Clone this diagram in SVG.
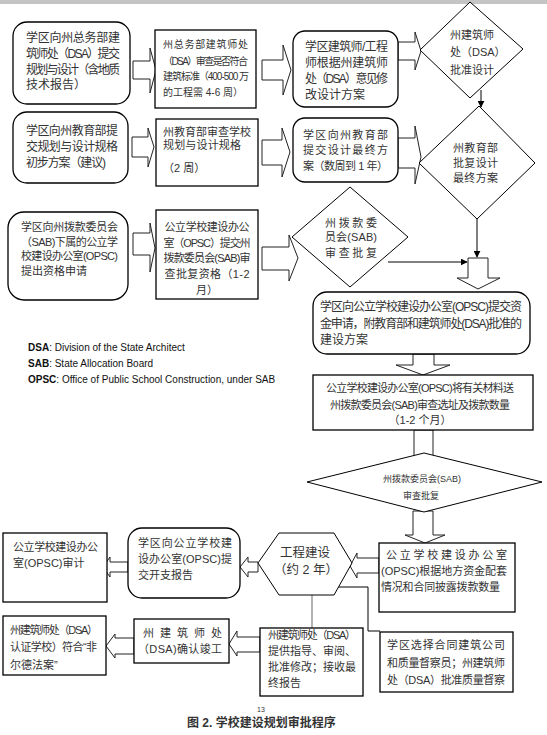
<svg xmlns="http://www.w3.org/2000/svg" width="547" height="735" viewBox="0 0 547 735">
<style>
.bg{fill:#fff}
.box{fill:#fff;stroke:#000;stroke-width:1.3}
.dia{fill:#fff;stroke:#000;stroke-width:1}
.ba{fill:#fff;stroke:#222;stroke-width:1}
.ln{fill:none;stroke:#000;stroke-width:1}
.gl{fill:none;stroke:#999;stroke-width:1.5}
text{font-family:"Liberation Sans","Noto Sans CJK SC",sans-serif;fill:#333}
.f12{font-size:12px}
.f11{font-size:11px}
.f10{font-size:10px}
.f9{font-size:9px}
.c{text-anchor:middle}
.leg{font-size:10px;fill:#111}
</style>
<defs>
<marker id="ah" viewBox="0 0 10 10" refX="9" refY="5" markerWidth="7" markerHeight="7" orient="auto" markerUnits="userSpaceOnUse">
<path d="M0,0 L10,5 L0,10 Z" fill="#000"/>
</marker>
</defs>
<rect class="bg" x="0" y="0" width="547" height="735"/>
<rect x="0" y="0" width="547" height="4" fill="#c4c4c4"/>

<g id="connectors">
<path class="ba" d="M133,61 H150 V48 L156,70 L150,93 V79 H133 Z"/>
<path class="ba" d="M262,60 H283 V45 L291,70 L283,95 V80 H262 Z"/>
<path class="ba" d="M398,42 H415 V32 L421,51 L415,70 V60 H398 Z"/>
<path class="ba" d="M132,137 H148 V128 L154,147 L148,167 V157 H132 Z"/>
<path class="ba" d="M262,140 H282 V128 L290,152 L282,177 V165 H262 Z"/>
<path class="ba" d="M398,138 H415 V126 L421,157 L415,184 V168 H398 Z"/>
<path class="ba" d="M133,233 H150 V223 L155,248 L150,272 V255 H133 Z"/>
<path class="ba" d="M262,247 H289 V235 L298,258 L289,281 V270 H262 Z"/>
<line class="ln" x1="481" y1="90" x2="481" y2="107" marker-end="url(#ah)"/>
<line class="ln" x1="477" y1="219" x2="477" y2="257" marker-end="url(#ah)"/>
<line class="ln" x1="388" y1="262" x2="467" y2="262" marker-end="url(#ah)"/>
<path class="ba" d="M468,258 H488 V278 H500 L478,289 L457,278 H468 Z"/>
<path class="ba" d="M413,354 H434 V365 H450 L423,375 L396,365 H413 Z"/>
<path class="ba" d="M414,430 H433 V462 H414 Z"/>
<path class="ba" d="M413,511 H433 V535 H445 L425,543 L405,535 H413 Z"/>
<path class="ba" d="M379,558 H357 V553 L350,566 L357,578 V573 H379 Z"/>
<path class="ba" d="M258,562 H248 V557 L240,567 L248,577 V572 H258 Z"/>
<path class="ba" d="M128,562 H110 V557 L103,567 L110,577 V572 H128 Z"/>
<path class="ba" d="M260,637 H237 V631 L229,644 L237,656 V652 H260 Z"/>
<path class="ba" d="M134,638 H115 V634 L106,646 L115,658 V654 H134 Z"/>
<line class="gl" x1="312" y1="595" x2="312" y2="628"/>
<polyline class="ln" points="337,587 368,587 368,631 380,631"/>
</g>

<g id="n1">
<rect class="box" x="13" y="22" width="117" height="82" rx="14"/>
<text class="f12" x="26" y="42" textLength="94">学区向州总务部建</text>
<text class="f12" x="26" y="58" textLength="94">筑师处（DSA）提交</text>
<text class="f12" x="26" y="74" textLength="94">规划与设计（含地质</text>
<text class="f12" x="26" y="89">技术报告）</text>
</g>
<g id="n2">
<rect class="box" x="155" y="30" width="101" height="78" stroke-width="1.6"/>
<text class="f10" x="163" y="48" textLength="85">州总务部建筑师处</text>
<text class="f10" x="163" y="65" textLength="85">（DSA）审查是否符合</text>
<text class="f10" x="163" y="80" textLength="86">建筑标准（400-500 万</text>
<text class="f10" x="163" y="96">的工程需 4-6 周）</text>
</g>
<g id="n3">
<rect class="box" x="293" y="31" width="105" height="76" rx="12"/>
<text class="f12" x="305" y="51" textLength="83">学区建筑师/工程</text>
<text class="f12" x="305" y="67" textLength="83">师根据州建筑师</text>
<text class="f12" x="305" y="83" textLength="83">处（DSA）意见修</text>
<text class="f12" x="305" y="99">改设计方案</text>
</g>
<g id="d1">
<polygon class="dia" points="420,50 470,2 523,49 470,98"/>
<text class="f11" x="450" y="39" textLength="44">州建筑师</text>
<text class="f11" x="450" y="56">处（DSA）</text>
<text class="f11" x="450" y="74" textLength="44">批准设计</text>
</g>
<g id="n4">
<rect class="box" x="13" y="112" width="115" height="71" rx="14"/>
<text class="f12" x="26" y="135" textLength="92">学区向州教育部提</text>
<text class="f12" x="26" y="151" textLength="92">交规划与设计规格</text>
<text class="f12" x="26" y="167" textLength="80">初步方案（建议)</text>
</g>
<g id="n5">
<rect class="box" x="156" y="119" width="102" height="67"/>
<text class="f11" x="163" y="136" textLength="88">州教育部审查学校</text>
<text class="f11" x="163" y="149" textLength="78">规划与设计规格</text>
<text class="f11" x="163" y="172">（2 周）</text>
</g>
<g id="n6">
<rect class="box" x="293" y="118" width="105" height="64" rx="12"/>
<text class="f11" x="303" y="139" textLength="85">学区向州教育部</text>
<text class="f11" x="303" y="154" textLength="85">提交设计最终方</text>
<text class="f11" x="303" y="170" textLength="85">案（数周到 1 年）</text>
</g>
<g id="d2">
<polygon class="dia" points="419,163 479,106 535,163 477,219"/>
<text class="f11" x="453" y="152" textLength="45">州教育部</text>
<text class="f11" x="453" y="167" textLength="45">批复设计</text>
<text class="f11" x="453" y="182" textLength="45">最终方案</text>
</g>
<g id="n7">
<rect class="box" x="8" y="212" width="120" height="88" rx="16"/>
<text class="f11" x="21" y="231" textLength="97">学区向州拨款委员会</text>
<text class="f11" x="21" y="246" textLength="97">（SAB)下属的公立学</text>
<text class="f11" x="21" y="260" textLength="97">校建设办公室(OPSC)</text>
<text class="f11" x="21" y="275">提出资格申请</text>
</g>
<g id="n8">
<rect class="box" x="156" y="210" width="102" height="89"/>
<text class="f11 c" x="207" y="231" textLength="85">公立学校建设办公</text>
<text class="f11 c" x="207" y="247" textLength="87">室（OPSC）提交州</text>
<text class="f11 c" x="207" y="262" textLength="87">拨款委员会(SAB)审</text>
<text class="f11 c" x="207" y="278" textLength="85">查批复资格（1-2</text>
<text class="f11 c" x="207" y="294">月）</text>
</g>
<g id="d3">
<polygon class="dia" points="292,237 350,187 408,237 350,287"/>
<text class="f11 c" x="351" y="227" textLength="52">州拨款委</text>
<text class="f11 c" x="351" y="241" textLength="52">员会(SAB)</text>
<text class="f11 c" x="351" y="257" textLength="52">审查批复</text>
</g>
<g id="n9">
<rect class="box" x="313" y="292" width="217" height="62" rx="14"/>
<text class="f12" x="320" y="311" textLength="202">学区向公立学校建设办公室(OPSC)提交资</text>
<text class="f12" x="320" y="328" textLength="202">金申请，附教育部和建筑师处(DSA)批准的</text>
<text class="f12" x="320" y="344">建设方案</text>
</g>
<g id="legend">
<text class="leg" x="28" y="351"><tspan font-weight="bold">DSA</tspan>: Division of the State Architect</text>
<text class="leg" x="28" y="367"><tspan font-weight="bold">SAB</tspan>: State Allocation Board</text>
<text class="leg" x="28" y="383"><tspan font-weight="bold">OPSC</tspan>: Office of Public School Construction, under SAB</text>
</g>
<g id="n10">
<rect class="box" x="313" y="375" width="220" height="55"/>
<text class="f11 c" x="420" y="392" textLength="188">公立学校建设办公室(OPSC)将有关材料送</text>
<text class="f11 c" x="420" y="409" textLength="180">州拨款委员会(SAB)审查选址及拨款数量</text>
<text class="f11 c" x="420" y="424">（1-2 个月）</text>
</g>
<g id="d4">
<polygon class="dia" points="307,482 424,453 542,482 424,512"/>
<text class="f9 c" x="422" y="482">州拨款委员会(SAB)</text>
<text class="f9 c" x="421" y="499">审查批复</text>
</g>
<g id="n11">
<rect class="box" x="379" y="543" width="136" height="69"/>
<text class="f11" x="386" y="559" textLength="121">公立学校建设办公室</text>
<text class="f11" x="381" y="575" textLength="126">(OPSC)根据地方资金配套</text>
<text class="f11" x="381" y="591" textLength="119">情况和合同披露拨款数量</text>
</g>
<g id="hex">
<polygon class="dia" points="258,563 279,533 334,533 352,563 334,595 279,595"/>
<text class="c" font-size="12.5" x="305" y="557">工程建设</text>
<text class="c" font-size="12.5" x="306" y="574">（约 2 年）</text>
</g>
<g id="n12">
<rect class="box" x="128" y="528" width="112" height="70" rx="14"/>
<text class="f11" x="138" y="547" textLength="94">学区向公立学校建</text>
<text class="f11" x="138" y="563" textLength="94">设办公室(OPSC)提</text>
<text class="f11" x="138" y="579">交开支报告</text>
</g>
<g id="n13">
<rect class="box" x="3" y="533" width="104" height="69"/>
<text class="f11" x="13" y="551" textLength="85">公立学校建设办公</text>
<text class="f11" x="13" y="567">室(OPSC)审计</text>
</g>
<g id="n14">
<rect class="box" x="3" y="616" width="103" height="59"/>
<text class="f11" x="10" y="634" textLength="88">州建筑师处（DSA）</text>
<text class="f11" x="10" y="651" textLength="87">认证学校）符合“非</text>
<text class="f11" x="10" y="669">尔德法案”</text>
</g>
<g id="n15">
<rect class="box" x="134" y="619" width="95" height="44"/>
<text class="f11" x="143" y="637" textLength="79">州建筑师处</text>
<text class="f11" x="138" y="653" textLength="84">（DSA)确认竣工</text>
</g>
<g id="n16">
<rect class="box" x="260" y="628" width="103" height="68"/>
<text class="f11" x="268" y="639" textLength="88">州建筑师处（DSA）</text>
<text class="f11" x="268" y="655" textLength="88">提供指导、审阅、</text>
<text class="f11" x="268" y="671" textLength="88">批准修改；接收最</text>
<text class="f11" x="268" y="687">终报告</text>
</g>
<g id="n17">
<rect class="box" x="380" y="632" width="133" height="60"/>
<text class="f11" x="387" y="649" textLength="118">学区选择合同建筑公司</text>
<text class="f11" x="387" y="667" textLength="118">和质量督察员；州建筑师</text>
<text class="f11" x="387" y="684" textLength="118">处（DSA）批准质量督察</text>
</g>
<g id="caption">
<text x="257" y="712" font-size="7" fill="#444">13</text>
<text x="187" y="727" font-size="12" font-weight="bold">图 2.  学校建设规划审批程序</text>
</g>
</svg>
